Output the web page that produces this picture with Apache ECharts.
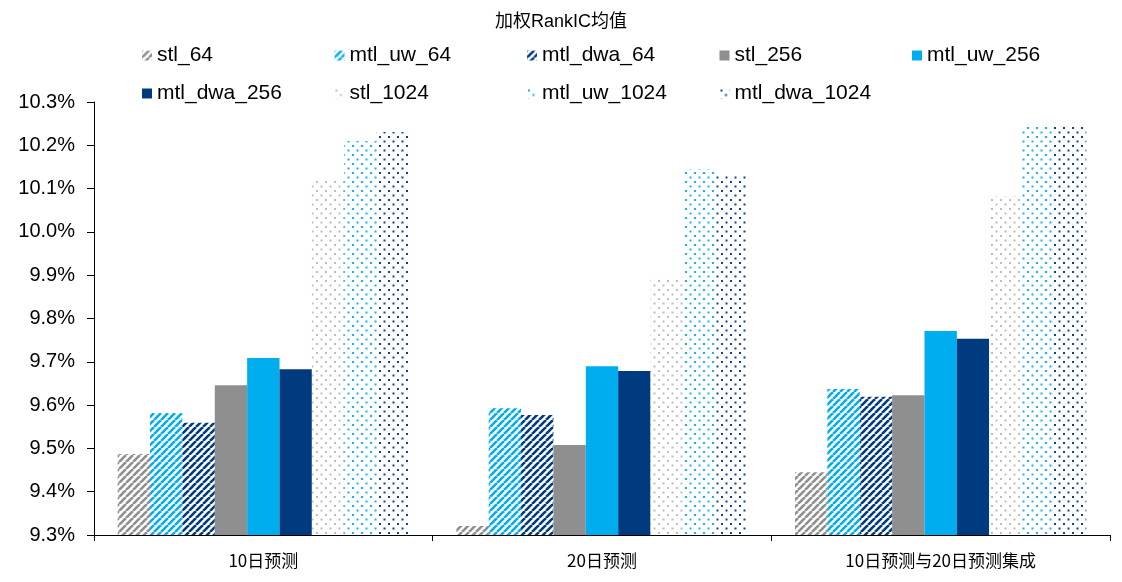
<!DOCTYPE html>
<html>
<head>
<meta charset="utf-8">
<script src="https://cdn.jsdelivr.net/npm/echarts@6/dist/echarts.min.js"></script>
<style>html,body{margin:0;padding:0;background:#fff}#c{width:1122px;height:582px}</style>
</head>
<body>
<div id="c"></div>
<script>
const title = '加权RankIC均值';
const categories = ['10日预测', '20日预测', '10日预测与20日预测集成'];
const seriesNames = ['stl_64','mtl_uw_64','mtl_dwa_64','stl_256','mtl_uw_256','mtl_dwa_256','stl_1024','mtl_uw_1024','mtl_dwa_1024'];
const stl_64       = [9.487, 9.321, 9.445];
const mtl_uw_64    = [9.582, 9.593, 9.637];
const mtl_dwa_64   = [9.559, 9.577, 9.619];
const stl_256      = [9.646, 9.508, 9.623];
const mtl_uw_256   = [9.709, 9.690, 9.771];
const mtl_dwa_256  = [9.683, 9.679, 9.753];
const stl_1024     = [10.122, 9.894, 10.083];
const mtl_uw_1024  = [10.210, 10.145, 10.245];
const mtl_dwa_1024 = [10.231, 10.134, 10.247];
const yTicks = ['9.3%','9.4%','9.5%','9.6%','9.7%','9.8%','9.9%','10.0%','10.1%','10.2%','10.3%'];

const values = [stl_64, mtl_uw_64, mtl_dwa_64, stl_256, mtl_uw_256, mtl_dwa_256, stl_1024, mtl_uw_1024, mtl_dwa_1024];
const GREY = '#8f8f8f', BLUE = '#00aeef', NAVY = '#003a7f';
const baseColors = [GREY, BLUE, NAVY];

function stripe(color) {
  const s = 7;
  const c = document.createElement('canvas');
  c.width = s; c.height = s;
  const ctx = c.getContext('2d');
  ctx.fillStyle = '#fff'; ctx.fillRect(0,0,s,s);
  ctx.strokeStyle = color; ctx.lineWidth = 2.6;
  for (let k = -1; k <= 1; k++) {
    ctx.beginPath(); ctx.moveTo(k*s, s); ctx.lineTo(k*s + s, 0); ctx.stroke();
  }
  return {image: c, repeat: 'repeat'};
}
function dots(color) {
  const s = 9;
  const c = document.createElement('canvas');
  c.width = s; c.height = s;
  const ctx = c.getContext('2d');
  ctx.fillStyle = '#fff'; ctx.fillRect(0,0,s,s);
  ctx.fillStyle = color;
  ctx.fillRect(1,1,2,2);
  ctx.fillRect(5.5,5.5,2,2);
  return {image: c, repeat: 'repeat'};
}
const dotColors = ['#bdbdbd', '#14b4f0', '#12428a'];

const fills = [];
for (let g = 0; g < 3; g++) {
  for (let i = 0; i < 3; i++) {
    if (g === 0) fills.push(stripe(baseColors[i]));
    else if (g === 1) fills.push(baseColors[i]);
    else fills.push(dots(dotColors[i]));
  }
}

const legends = seriesNames.map((n, i) => {
  const row = i < 5 ? 0 : 1;
  const col = i < 5 ? i : i - 5;
  return {
    data: [n], left: 142 + col * 192.5, top: row === 0 ? 45 : 83, padding: 0,
    itemWidth: 10, itemHeight: 10, itemGap: 0, icon: 'rect',
    textStyle: {fontFamily: 'Liberation Sans', fontSize: 21, color: '#000', padding: [0,0,0,0]}
  };
});

const chart = echarts.init(document.getElementById('c'), null, {renderer: 'canvas'});
chart.setOption({
  animation: false,
  backgroundColor: '#fff',
  title: {text: title, left: 'center', top: 8,
    textStyle: {fontFamily: 'Liberation Sans, Noto Sans CJK SC', fontSize: 18, fontWeight: 'normal', color: '#000'}},
  legend: legends,
  grid: {left: 94, right: 12, top: 102, bottom: 47, containLabel: false},
  xAxis: {
    type: 'category', data: categories,
    axisLine: {lineStyle: {color: '#000', width: 1}},
    axisTick: {show: true, alignWithLabel: false, length: 6, lineStyle: {color: '#000'}},
    axisLabel: {fontFamily: 'Noto Sans CJK SC', fontSize: 17, color: '#000', margin: 17}
  },
  yAxis: {
    type: 'value', min: 9.3, max: 10.3, interval: 0.1,
    axisLine: {show: true, lineStyle: {color: '#000', width: 1}},
    axisTick: {show: true, length: 7, inside: false, lineStyle: {color: '#000'}},
    splitLine: {show: false},
    axisLabel: {fontFamily: 'Liberation Sans', fontSize: 20, color: '#000', margin: 19,
      formatter: (v) => yTicks[Math.round((v - 9.3) * 10)]}
  },
  series: seriesNames.map((n, i) => ({
    name: n, type: 'bar', data: values[i],
    barGap: '0%', barCategoryGap: '14%',
    itemStyle: {color: fills[i]}
  }))
});
</script>
</body>
</html>
